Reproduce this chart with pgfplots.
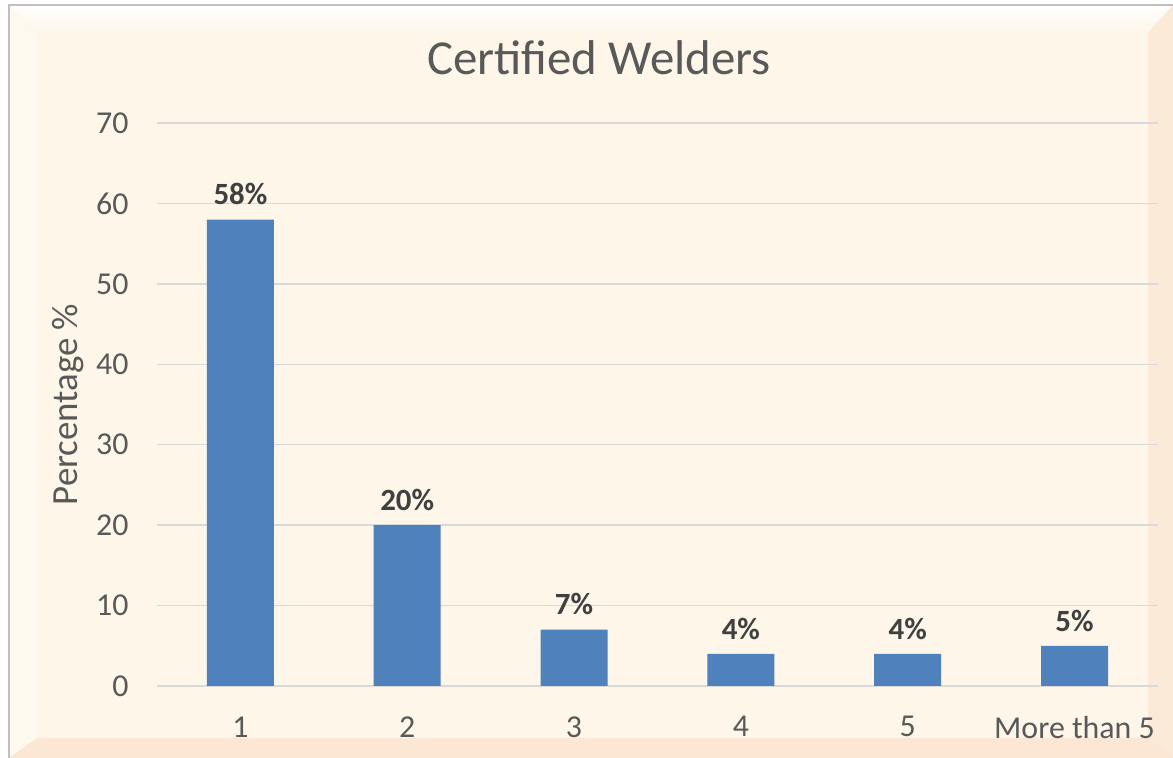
\documentclass[border=0pt]{standalone}
\usepackage{pgfplots}
\pgfplotsset{compat=1.18}
\usepackage{fontspec}
\setmainfont{Carlito}
\definecolor{bgc}{HTML}{FDF6E9}
\definecolor{bevl}{HTML}{FEF9EE}
\definecolor{bevr}{HTML}{FBEAD8}
\definecolor{bevb}{HTML}{FBE7D4}
\definecolor{framec}{HTML}{BFBFBF}
\definecolor{bartc}{HTML}{4F81BD}
\definecolor{txt}{HTML}{595959}
\definecolor{lbl}{HTML}{404040}
\definecolor{gridc}{HTML}{D9D9D9}
\begin{document}
\begin{tikzpicture}[x=1bp,y=1bp]
% background frame with bevel
\path[use as bounding box] (0,0) rectangle (1173,758);
\fill[white] (0,0) rectangle (1173,758);
\fill[bgc] (9,0) rectangle (1173,753);
\shade[top color=white, bottom color=bgc] (9,753) -- (1173,753) -- (1145,725) -- (37,725) -- cycle;
\fill[bevl] (9,0) -- (9,753) -- (37,725) -- (37,20) -- cycle;
\fill[bevr] (1173,0) -- (1173,753) -- (1148,725) -- (1148,20) -- cycle;
\fill[bevb] (9,0) -- (1173,0) -- (1148,20) -- (37,20) -- cycle;
\draw[framec, line width=1.2bp] (9,0) -- (9,753) -- (1173,753);
\node[font=\fontsize{49}{58}\selectfont, text=txt] at (599,700) {Certified Welders};
\begin{axis}[
  at={(157bp,72bp)}, anchor=south west,
  scale only axis, width=1001bp, height=563bp,
  xmin=-0.5, xmax=5.5, ymin=0, ymax=70,
  ytick={0,10,...,70},
  xtick={0,1,2,3,4,5},
  xticklabels={1,2,3,4,5,More than 5},
  axis line style={draw=none},
  major tick length=0,
  ymajorgrids, major grid style={gridc, line width=1.5bp},
  /pgf/number format/assume math mode=true,
  tick label style={font=\fontsize{32}{38}\selectfont, text=txt},
  yticklabel style={anchor=east, xshift=-25bp},
  xticklabel style={anchor=north, yshift=-27bp},
  ylabel={Percentage \%},
  every axis y label/.style={at={(axis description cs:0,0.5)}, xshift=-89bp, rotate=90, anchor=center, font=\fontsize{37}{44}\selectfont, text=txt},
  ybar, bar width=67bp,
  nodes near coords={\pgfmathprintnumber{\pgfplotspointmeta}\%},
  every node near coord/.append style={font=\bfseries\fontsize{31}{37}\selectfont, text=lbl, yshift=11bp},
  clip=false,
]
\addplot[fill=bartc, draw=none] coordinates {(0,58) (1,20) (2,7) (3,4) (4,4) (5,5)};
\end{axis}
\end{tikzpicture}
\end{document}
